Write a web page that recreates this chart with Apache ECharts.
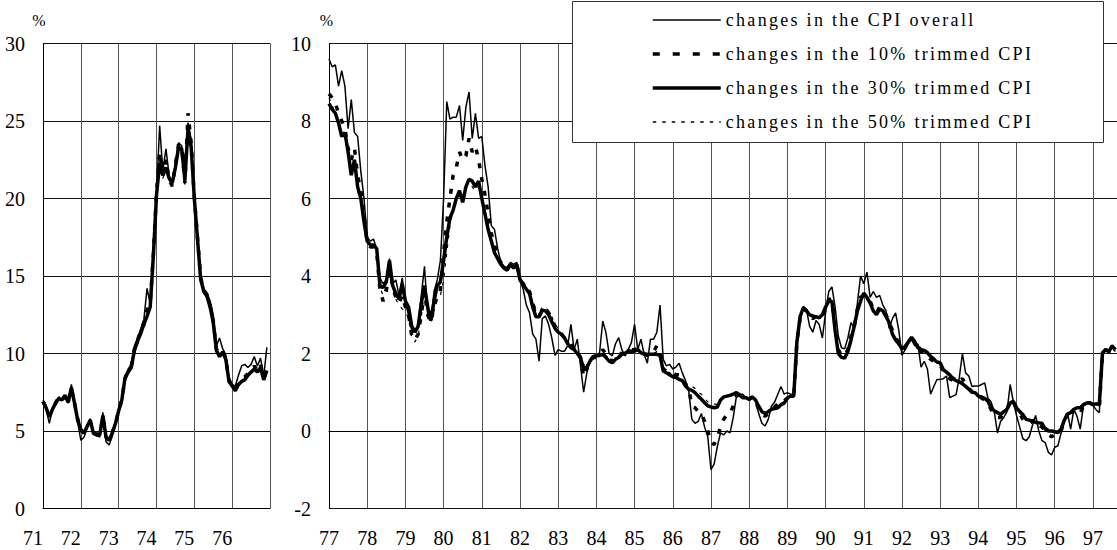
<!DOCTYPE html>
<html>
<head>
<meta charset="utf-8">
<title>Changes in the CPI and trimmed means</title>
<script src="https://cdn.jsdelivr.net/npm/echarts@6/dist/echarts.min.js"></script>
<style>
html, body { margin: 0; padding: 0; background: #fff; }
#chart { width: 1117px; height: 550px; }
/* the legend text is letter-spaced in the original */
#chart svg text[style*="18px"] { letter-spacing: 2.3px; }
</style>
</head>
<body>
<div id="chart"></div>
<script>
var seriesNames = ['changes in the CPI overall', 'changes in the 10% trimmed CPI',
                   'changes in the 30% trimmed CPI', 'changes in the 50% trimmed CPI'];

// monthly, Jan 1971 - Dec 1976 (y/y %)
var leftStart = 1971;
var cpiLeft = [
  6.8, 6.4, 5.5, 6.4, 6.7, 7.2, 7.0, 7.3, 6.8, 8.0, 6.9, 5.6,
  4.4, 4.6, 5.2, 5.8, 4.8, 4.7, 4.6, 6.2, 4.3, 4.1, 4.7, 5.4,
  6.3, 7.0, 8.5, 9.0, 9.3, 10.5, 11.0, 11.6, 12.2, 14.2, 13.2, 16.5,
  20.3, 24.7, 21.8, 23.2, 21.5, 20.8, 22.3, 23.6, 23.4, 20.9, 24.9, 23.8,
  20.2, 17.7, 15.0, 14.2, 13.9, 13.4, 12.5, 10.5, 11.0, 10.3, 9.9, 8.4,
  8.0, 7.9, 8.6, 9.2, 9.3, 9.1, 9.3, 9.8, 9.2, 9.7, 8.5, 10.4
];
var trim10Left = [
  6.9, 6.5, 6.0, 6.5, 6.8, 7.2, 7.0, 7.3, 6.9, 7.8, 6.8, 5.8,
  5.0, 4.9, 5.2, 5.6, 4.9, 4.8, 4.8, 5.9, 4.6, 4.4, 4.9, 5.5,
  6.3, 7.0, 8.4, 8.9, 9.2, 10.3, 10.9, 11.4, 12.0, 12.8, 13.2, 16.4,
  20.4, 23.0, 21.5, 22.5, 21.2, 20.8, 22.2, 23.5, 23.3, 21.0, 25.5, 23.6,
  20.1, 17.5, 14.9, 14.1, 13.8, 13.1, 12.1, 10.3, 10.0, 10.2, 9.6, 8.3,
  7.9, 7.7, 8.1, 8.4, 8.5, 8.7, 8.9, 9.2, 8.9, 9.3, 8.4, 9.0
];
var trim30Left = [
  6.9, 6.5, 5.9, 6.4, 6.8, 7.1, 7.0, 7.25, 6.85, 7.8, 6.8, 5.7,
  5.1, 4.85, 5.3, 5.7, 4.85, 4.75, 4.75, 6.0, 4.6, 4.4, 4.9, 5.5,
  6.3, 7.0, 8.4, 8.8, 9.1, 10.2, 10.8, 11.3, 11.9, 12.4, 13.0, 16.3,
  20.2, 22.3, 21.5, 22.0, 21.3, 21.0, 22.0, 23.3, 23.2, 21.2, 24.5, 23.3,
  20.0, 17.4, 14.8, 14.0, 13.7, 13.0, 12.0, 10.2, 9.8, 10.1, 9.6, 8.2,
  7.9, 7.6, 8.0, 8.2, 8.3, 8.6, 8.8, 9.0, 8.8, 9.1, 8.3, 8.9
];
var trim50Left = [
  7.0, 6.6, 6.1, 6.5, 6.9, 7.2, 7.1, 7.4, 6.9, 7.7, 6.9, 5.9,
  5.1, 4.9, 5.3, 5.5, 4.9, 4.8, 4.8, 5.8, 4.7, 4.5, 4.9, 5.5,
  6.2, 6.9, 8.2, 8.7, 9.0, 10.0, 10.6, 11.2, 11.6, 12.3, 13.0, 16.2,
  20.1, 22.0, 21.3, 21.8, 21.2, 21.1, 21.8, 23.0, 23.1, 21.3, 24.2, 23.2,
  19.9, 17.3, 14.7, 14.0, 13.6, 12.9, 11.9, 10.2, 9.7, 10.0, 9.5, 8.2,
  7.9, 7.6, 7.9, 8.2, 8.3, 8.5, 8.7, 8.9, 8.7, 9.0, 8.3, 8.8
];

// monthly, Jan 1977 - Aug 1997 (y/y %)
var rightStart = 1977;
var cpiRight = [
  9.6, 9.4, 9.45, 8.9, 9.3, 8.9, 7.8, 8.55, 7.7, 7.6, 6.7, 6.0,
  5.0, 4.9, 4.95, 4.7, 3.95, 3.8, 3.9, 4.45, 3.8, 3.9, 3.5, 3.95,
  3.3, 3.0, 2.6, 2.55, 2.75, 3.5, 4.25, 3.0, 2.85, 3.6, 3.9, 4.4,
  6.0, 8.5, 8.05, 8.1, 8.1, 8.4, 7.5, 8.35, 8.75, 7.55, 8.2, 7.55,
  7.6, 6.85, 6.3, 5.3, 5.2, 4.7, 4.35, 4.25, 4.2, 4.35, 4.3, 4.35,
  3.9, 3.66, 3.25, 3.05, 2.5, 2.37, 1.8, 2.9, 2.97, 2.75, 2.4, 1.95,
  2.1, 2.06, 2.06, 2.2, 2.75, 2.1, 2.37, 1.7, 1.0, 1.5, 1.85, 1.95,
  1.94, 2.02, 2.84, 2.54, 2.0, 1.94, 2.25, 2.41, 2.1, 1.94, 2.1, 2.28,
  2.75, 2.1, 2.37, 1.98, 1.75, 2.37, 2.37, 2.55, 3.25, 1.85, 1.68, 1.72,
  1.6, 1.65, 1.75, 1.5, 1.3, 1.05, 0.3, 0.2, 0.25, 0.45, 0.1, -0.15,
  -1.0, -0.85, -0.4, -0.05, -0.1, 0.0, -0.05, 0.35, 0.9, 0.95, 0.95, 0.85,
  0.82, 0.9, 0.8, 0.45, 0.2, 0.13, 0.3, 0.64, 0.75, 0.95, 1.15, 0.95,
  0.99, 0.95, 0.95, 2.45, 2.88, 3.22, 3.13, 2.7, 2.55, 2.85, 2.75, 2.4,
  3.05, 3.6, 3.72, 3.2, 2.45, 2.15, 2.12, 2.4, 2.8, 2.65, 3.3, 4.0,
  3.8, 4.1, 3.45, 3.6, 3.45, 3.5, 3.25, 3.1, 2.65, 2.9, 3.05, 2.6,
  1.95, 2.1, 2.25, 2.36, 2.2, 2.25, 1.65, 1.8, 1.6, 0.95, 1.15, 1.33,
  1.33, 1.35, 1.42, 0.86, 0.9, 0.94, 1.37, 2.0, 1.5, 1.42, 1.15, 1.16,
  1.16, 1.2, 1.24, 0.85, 0.75, 0.5, -0.05, 0.25, 0.35, 0.5, 1.2, 0.75,
  0.4, 0.1, -0.2, -0.25, -0.15, 0.15, 0.4, 0.0, -0.25, -0.3, -0.55, -0.62,
  -0.42, -0.38, -0.05, 0.25, 0.47, 0.05, 0.56, 0.38, 0.05, 0.64, 0.73, 0.7,
  0.66, 0.55, 0.47, 1.97, 2.1, 2.0, 2.2, 2.05
];
var trim10Right = [
  8.7, 8.6, 8.45, 8.2, 8.0, 7.8, 7.3, 7.0, 7.3, 6.6, 6.2, 5.6,
  4.85, 4.75, 4.75, 4.6, 3.65, 3.35, 3.6, 4.3, 3.7, 3.45, 3.3, 3.5,
  3.2, 3.0, 2.45, 2.35, 2.5, 3.0, 3.6, 3.0, 2.8, 3.2, 3.5, 3.6,
  4.6, 5.4, 6.0, 6.6, 6.8, 7.2, 7.0, 7.1, 7.55, 7.2, 7.35, 7.0,
  6.5, 6.1, 5.6, 5.1, 4.8, 4.5, 4.35, 4.2, 4.2, 4.3, 4.25, 4.3,
  3.9, 3.8, 3.7, 3.6, 3.3, 3.05, 2.95, 3.15, 3.15, 3.05, 2.9, 2.7,
  2.6, 2.5, 2.4, 2.3, 2.25, 2.1, 2.05, 1.9, 1.4, 1.6, 1.8, 1.9,
  1.9, 1.95, 2.1, 2.0, 1.85, 1.8, 1.9, 2.0, 2.0, 2.0, 2.1, 2.1,
  2.1, 2.15, 2.05, 2.0, 1.95, 2.0, 2.05, 2.2, 2.1, 1.6, 1.55, 1.5,
  1.5, 1.45, 1.45, 1.35, 1.2, 1.1, 0.65, 0.6, 0.5, 0.45, 0.25, 0.0,
  -0.3, -0.35, -0.15, 0.1, 0.3, 0.43, 0.45, 0.65, 0.9, 0.95, 0.9, 0.85,
  0.82, 0.88, 0.78, 0.55, 0.42, 0.38, 0.45, 0.55, 0.62, 0.7, 0.8, 0.78,
  0.85, 0.9, 0.9, 2.3, 2.9, 3.15, 3.1, 2.95, 2.9, 2.95, 2.9, 2.95,
  3.15, 3.4, 3.4, 2.7, 2.1, 1.95, 1.95, 2.1, 2.45, 2.7, 3.15, 3.45,
  3.5, 3.45, 3.35, 3.15, 3.05, 3.2, 3.15, 3.0, 2.8, 2.6, 2.4, 2.3,
  2.1, 2.15, 2.3, 2.4, 2.3, 2.15, 2.05, 2.05, 1.95, 1.85, 1.8, 1.75,
  1.7, 1.55, 1.5, 1.35, 1.3, 1.28, 1.3, 1.35, 1.2, 1.1, 1.02, 1.0,
  0.9, 0.85, 0.8, 0.72, 0.55, 0.45, 0.35, 0.35, 0.45, 0.55, 0.8, 0.75,
  0.55, 0.45, 0.3, 0.2, 0.2, 0.25, 0.3, 0.15, 0.1, 0.0, -0.1, -0.15,
  -0.1, -0.1, 0.0, 0.25, 0.45, 0.35, 0.55, 0.55, 0.45, 0.65, 0.72, 0.72,
  0.68, 0.68, 0.6, 2.0, 2.1, 2.05, 2.2, 2.1
];
var trim30Right = [
  8.45, 8.3, 8.2, 7.95, 7.6, 7.7, 7.2, 6.6, 7.0, 6.3, 6.0, 5.4,
  4.9, 4.8, 4.8, 4.7, 3.75, 3.7, 3.85, 4.4, 3.75, 3.55, 3.4, 3.8,
  3.35, 3.2, 2.7, 2.55, 2.7, 3.3, 3.75, 3.2, 2.85, 3.35, 3.75, 3.85,
  4.4, 5.0, 5.5, 5.7, 6.0, 6.2, 5.9, 6.3, 6.5, 6.45, 6.3, 6.45,
  6.0, 5.6, 5.2, 4.9, 4.6, 4.45, 4.3, 4.2, 4.15, 4.3, 4.2, 4.3,
  3.9, 3.78, 3.66, 3.55, 3.2, 2.95, 2.95, 3.12, 3.1, 3.0, 2.82, 2.65,
  2.55, 2.5, 2.4, 2.25, 2.15, 2.1, 2.0, 1.89, 1.6, 1.65, 1.8, 1.92,
  1.94, 1.95, 1.98, 1.9, 1.8, 1.76, 1.85, 1.9, 1.98, 2.0, 2.06, 2.06,
  2.06, 2.1, 2.02, 1.98, 1.98, 1.98, 1.98, 1.98, 1.95, 1.55, 1.5, 1.45,
  1.4, 1.38, 1.33, 1.3, 1.16, 1.08, 1.05, 0.99, 0.9, 0.82, 0.73, 0.65,
  0.62, 0.6, 0.62, 0.8, 0.88, 0.9, 0.92, 0.95, 0.99, 0.92, 0.86, 0.86,
  0.82, 0.88, 0.8, 0.64, 0.5, 0.45, 0.5, 0.56, 0.58, 0.6, 0.68, 0.72,
  0.85, 0.9, 0.9, 2.3, 2.95, 3.18, 3.1, 3.0, 2.96, 2.95, 2.92, 3.0,
  3.2, 3.35, 3.35, 2.6, 2.0, 1.9, 1.88, 2.05, 2.35, 2.7, 3.1, 3.35,
  3.56, 3.45, 3.3, 3.1, 3.0, 3.15, 3.1, 2.95, 2.8, 2.5, 2.35, 2.25,
  2.12, 2.18, 2.3, 2.42, 2.3, 2.15, 2.1, 2.08, 2.02, 1.93, 1.85, 1.78,
  1.76, 1.58, 1.52, 1.45, 1.35, 1.3, 1.27, 1.22, 1.15, 1.08, 1.0, 0.99,
  0.9, 0.88, 0.84, 0.77, 0.6, 0.52, 0.47, 0.43, 0.5, 0.56, 0.72, 0.77,
  0.6, 0.5, 0.42, 0.3, 0.28, 0.26, 0.22, 0.21, 0.2, 0.05, 0.0, 0.0,
  -0.02, -0.04, 0.05, 0.28, 0.43, 0.48, 0.56, 0.6, 0.6, 0.68, 0.72, 0.73,
  0.69, 0.7, 0.68, 2.02, 2.1, 2.05, 2.2, 2.1
];
var trim50Right = [
  8.6, 8.4, 8.2, 7.9, 7.7, 7.6, 7.1, 6.7, 6.9, 6.2, 5.9, 5.3,
  4.9, 4.8, 4.75, 4.6, 3.7, 3.5, 3.75, 4.35, 3.7, 3.4, 3.25, 3.15,
  3.1, 2.9, 2.4, 2.3, 2.45, 2.95, 3.6, 3.05, 2.8, 3.1, 3.4, 3.5,
  3.9, 4.6, 5.3, 5.7, 6.0, 6.2, 6.0, 6.3, 6.5, 6.3, 6.2, 6.3,
  6.1, 5.7, 5.3, 4.9, 4.65, 4.5, 4.35, 4.25, 4.2, 4.3, 4.2, 4.3,
  3.95, 3.85, 3.75, 3.6, 3.3, 3.1, 3.05, 3.2, 3.2, 3.1, 2.95, 2.75,
  2.65, 2.55, 2.45, 2.3, 2.2, 2.15, 2.05, 1.95, 1.7, 1.75, 1.85, 1.95,
  1.95, 1.95, 2.0, 1.95, 1.85, 1.8, 1.85, 1.95, 2.0, 2.05, 2.1, 2.1,
  2.1, 2.1, 2.05, 2.0, 2.0, 2.0, 2.0, 2.05, 2.0, 1.6, 1.55, 1.5,
  1.45, 1.4, 1.35, 1.3, 1.25, 1.2, 1.15, 1.1, 1.0, 0.95, 0.85, 0.75,
  0.75, 0.7, 0.68, 0.8, 0.85, 0.9, 0.92, 0.95, 0.98, 0.95, 0.9, 0.88,
  0.85, 0.88, 0.8, 0.65, 0.52, 0.48, 0.52, 0.58, 0.62, 0.65, 0.72, 0.75,
  0.9, 0.9, 0.92, 2.3, 2.95, 3.2, 3.15, 3.05, 3.0, 2.95, 2.95, 3.0,
  3.2, 3.3, 3.3, 2.65, 2.05, 1.95, 1.92, 2.1, 2.4, 2.75, 3.1, 3.35,
  3.55, 3.45, 3.3, 3.1, 3.0, 3.15, 3.1, 2.95, 2.8, 2.55, 2.4, 2.3,
  2.15, 2.2, 2.35, 2.45, 2.35, 2.2, 2.15, 2.1, 2.05, 1.95, 1.9, 1.8,
  1.75, 1.6, 1.55, 1.45, 1.4, 1.35, 1.3, 1.25, 1.2, 1.1, 1.05, 1.0,
  0.92, 0.9, 0.85, 0.78, 0.62, 0.55, 0.5, 0.47, 0.52, 0.6, 0.75, 0.78,
  0.6, 0.52, 0.45, 0.35, 0.3, 0.28, 0.25, 0.22, 0.2, 0.1, 0.05, 0.02,
  0.0, 0.0, 0.08, 0.3, 0.45, 0.5, 0.58, 0.62, 0.62, 0.7, 0.74, 0.76,
  0.7, 0.72, 0.7, 2.05, 2.12, 2.08, 2.22, 2.15
];

var FONT = 'Liberation Serif, Times New Roman, serif';

// [start year + month/12, value]
function toPoints(start, values) {
	var pts = [];
	for (var i = 0; i < values.length; i++) {
		pts.push([start + i / 12, values[i]]);
	}
	return pts;
}

function yearLabel(v) {
	var y = Math.round(v);
	if (Math.abs(v - y) > 1e-6) return '';
	return String(y).slice(2);
}

var lineStyles = [
	{ width: 1.5, type: 'solid' },		// overall
	{ width: 3.5, type: [5, 9] },		// 10%
	{ width: 3.5, type: 'solid' },		// 30%
	{ width: 1.2, type: [3.5, 6] }		// 50%
];

function makeSeries(idx, panel, start, values) {
	return {
		name: seriesNames[idx],
		type: 'line',
		xAxisIndex: panel,
		yAxisIndex: panel,
		data: toPoints(start, values),
		symbol: 'none',
		showSymbol: false,
		animation: false,
		lineStyle: { color: '#000', width: lineStyles[idx].width, type: lineStyles[idx].type },
		itemStyle: { color: '#000' },
		z: 2 + idx
	};
}

// legend entries: line only, with each series' own width / dash
var legendData = [];
for (var k = 0; k < seriesNames.length; k++) {
	legendData.push({
		name: seriesNames[k],
		itemStyle: { opacity: 0 },
		lineStyle: { color: '#000', width: k == 3 ? 1.5 : lineStyles[k].width, type: k == 1 ? [7, 13] : lineStyles[k].type }
	});
}

function xAxisOpt(panel, min, max, align) {
	return {
		type: 'value', gridIndex: panel, min: min, max: max, interval: 1,
		axisLine: { show: true, lineStyle: { color: '#000', width: 1 } },
		axisTick: { show: false },
		splitLine: { show: true, lineStyle: { color: '#555', width: 1 } },
		axisLabel: {
			formatter: yearLabel, fontFamily: FONT, fontSize: 20, color: '#000',
			margin: 19, align: align, showMaxLabel: false
		}
	};
}

function yAxisOpt(panel, min, max, step, pad) {
	return {
		type: 'value', gridIndex: panel, min: min, max: max, interval: step,
		name: '%', nameLocation: 'end', nameGap: 15,
		nameTextStyle: { fontFamily: FONT, fontSize: 16, color: '#000', padding: [0, pad, 0, 0] },
		axisLine: { show: true, lineStyle: { color: '#000', width: 1 } },
		axisTick: { show: false },
		splitLine: { show: true, lineStyle: { color: '#111', width: 1 } },
		axisLabel: { fontFamily: FONT, fontSize: 20, color: '#000', margin: 18 }
	};
}

var option = {
	backgroundColor: '#fff',
	animation: false,
	grid: [
		{ left: 43, top: 43.5, width: 227, height: 465 },
		{ left: 329, top: 43.5, width: 788, height: 465 }
	],
	xAxis: [
		xAxisOpt(0, leftStart, 1977, 'right'),
		xAxisOpt(1, rightStart, 1997.63, 'center')
	],
	yAxis: [
		yAxisOpt(0, 0, 30, 5, 8),
		yAxisOpt(1, -2, 10, 2, 5)
	],
	legend: {
		orient: 'vertical', left: 651, top: 10,
		itemWidth: 68, itemHeight: 14, itemGap: 14, padding: 0,
		selectedMode: false,
		itemStyle: { opacity: 0 },
		textStyle: { fontFamily: FONT, fontSize: 18, color: '#000', lineHeight: 20 },
		data: legendData,
		z: 10
	},
	graphic: [{
		type: 'rect', z: 9,
		shape: { x: 572.5, y: 1.5, width: 531, height: 141 },
		style: { fill: '#fff', stroke: '#333', lineWidth: 1 }
	}],
	series: [
		makeSeries(0, 0, leftStart, cpiLeft),
		makeSeries(1, 0, leftStart, trim10Left),
		makeSeries(2, 0, leftStart, trim30Left),
		makeSeries(3, 0, leftStart, trim50Left),
		makeSeries(0, 1, rightStart, cpiRight),
		makeSeries(1, 1, rightStart, trim10Right),
		makeSeries(2, 1, rightStart, trim30Right),
		makeSeries(3, 1, rightStart, trim50Right)
	]
};

var myChart = echarts.init(document.getElementById('chart'), null, { renderer: 'svg' });
myChart.setOption(option);
</script>
</body>
</html>
